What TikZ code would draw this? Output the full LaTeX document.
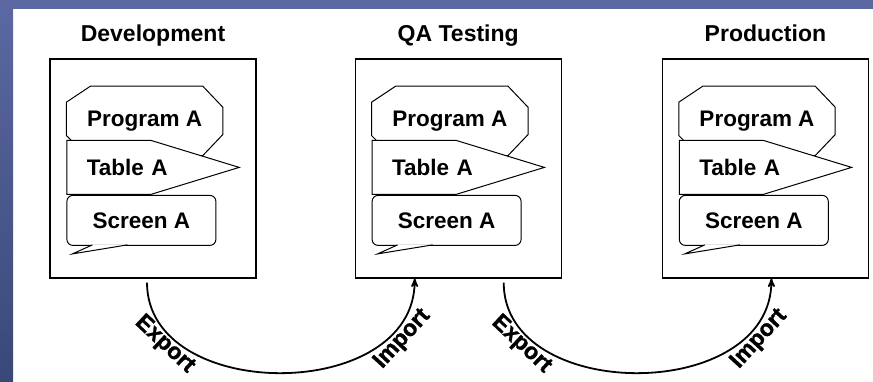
\documentclass[tikz,border=0pt]{standalone}
\usepackage{fontspec}
\setmainfont{Liberation Sans}
\newfontfamily\heavyfont{Liberation Sans}[BoldFeatures={FakeBold=1.2}]
\usetikzlibrary{arrows,positioning}
\usetikzlibrary{shapes.symbols}
\definecolor{slidetop}{RGB}{92,104,162}
\definecolor{slidebot}{RGB}{58,72,120}
\tikzset{
	%Define standard arrow tip
	>=stealth',
	%Define style for the environment boxes
	stage/.style={
		rectangle,
		draw=black, line width=1.2pt,
		minimum width=206pt,
		minimum height=219pt},
	% Define style for the titles
	heading/.style={
		inner sep=0pt, text depth=0pt,
		font=\fontsize{23}{27}\selectfont\bfseries},
	% Define styles for the objects
	program/.style={
		rectangle,
		minimum width=156pt,
		minimum height=69pt,
		font=\fontsize{22.5}{27}\selectfont\bfseries},
	outline/.style={
		draw=black, line width=1pt, fill=white},
	tablebox/.style={
		signal, signal to=east,
		signal pointer angle=34,
		outline,
		minimum height=54pt,
		text width=44pt, align=left, inner xsep=20pt,
		font=\fontsize{22.5}{27}\selectfont\bfseries},
	screen/.style={
		rectangle, rounded corners=6pt,
		outline,
		minimum width=149pt,
		minimum height=50pt,
		font=\fontsize{22.5}{27}\selectfont\bfseries},
	% Define arrow style
	move/.style={
		->,
		line width=1.8pt,
		shorten <=4pt},
	transfer/.style={
		sloped, anchor=north, inner sep=0pt,
		font=\heavyfont\bfseries\fontsize{23}{27}\selectfont}
}
% octagon frame round a program node
\newcommand{\progframe}[1]{%
	\draw[outline] ([xshift=24pt]#1.north west) -- ([xshift=-20pt]#1.north east)
		-- ([yshift=-21pt]#1.north east) -- ([yshift=21pt]#1.south east)
		-- ([xshift=-20pt]#1.south east) -- ([xshift=20pt]#1.south west)
		-- ([yshift=20pt]#1.south west) -- ([yshift=-16pt]#1.north west) -- cycle;}
% call-out tail under a screen node
\newcommand{\screentail}[1]{%
	\draw[outline] ([xshift=26pt,yshift=1pt]#1.south west) -- ([xshift=6pt,yshift=-8pt]#1.south west)
		-- ([xshift=61pt,yshift=1pt]#1.south west);}

\begin{document}
\begin{tikzpicture}[x=1pt, y=1pt]
	
	\useasboundingbox (0,0) rectangle (873,382);
	% slide background
	\shade[top color=slidetop, bottom color=slidebot] (0,0) rectangle (13,382);
	\fill[slidetop] (0,373) rectangle (873,382);
	
	\node[stage] (dev) at (153,213.5) {};
	\node[stage, right=98pt of dev] (qa) {};
	\node[stage, right=100pt of qa] (prod) {};
	\node[heading, above=17pt of dev] (devT) {Development};
	\node[heading, above=17pt of qa] (qaT) {QA Testing};
	\node[heading, above=17pt of prod] (prodT) {Production};
	
	% Development
	\node[program, below right=62.5pt and 17pt of dev.north west, anchor=west] (progA1) {};
	\progframe{progA1}
	\node[program, at=(progA1)] {Program A};
	\node[tablebox, below right=109pt and 17pt of dev.north west, anchor=west] (tabA1) {\mbox{Table A}};
	\node[screen, below right=162pt and 17pt of dev.north west, anchor=west] (scrA1) {Screen A};
	\screentail{scrA1}
	
	% QA Testing
	\node[program, below right=62.5pt and 17pt of qa.north west, anchor=west] (progA2) {};
	\progframe{progA2}
	\node[program, at=(progA2)] {Program A};
	\node[tablebox, below right=109pt and 17pt of qa.north west, anchor=west] (tabA2) {\mbox{Table A}};
	\node[screen, below right=162pt and 17pt of qa.north west, anchor=west] (scrA2) {Screen A};
	\screentail{scrA2}
	
	% Production
	\node[program, below right=62.5pt and 17pt of prod.north west, anchor=west] (progA3) {};
	\progframe{progA3}
	\node[program, at=(progA3)] {Program A};
	\node[tablebox, below right=109pt and 17pt of prod.north west, anchor=west] (tabA3) {\mbox{Table A}};
	\node[screen, below right=162pt and 17pt of prod.north west, anchor=west] (scrA3) {Screen A};
	\screentail{scrA3}
	
	% moves between the environments
	\draw[move] ([xshift=-6pt]dev.south) .. controls +(0,-125) and +(0,-125) .. ([xshift=-43.5pt]qa.south)
		node[transfer, pos=0.19] (exp1) {Export}
		node[transfer, pos=0.83] (imp1) {Import};
	\draw[move] ([xshift=45.5pt]qa.south) .. controls +(0,-125) and +(0,-125) .. ([xshift=6pt]prod.south)
		node[transfer, pos=0.19] (exp2) {Export}
		node[transfer, pos=0.83] (imp2) {Import};
	
\end{tikzpicture}
\end{document}
